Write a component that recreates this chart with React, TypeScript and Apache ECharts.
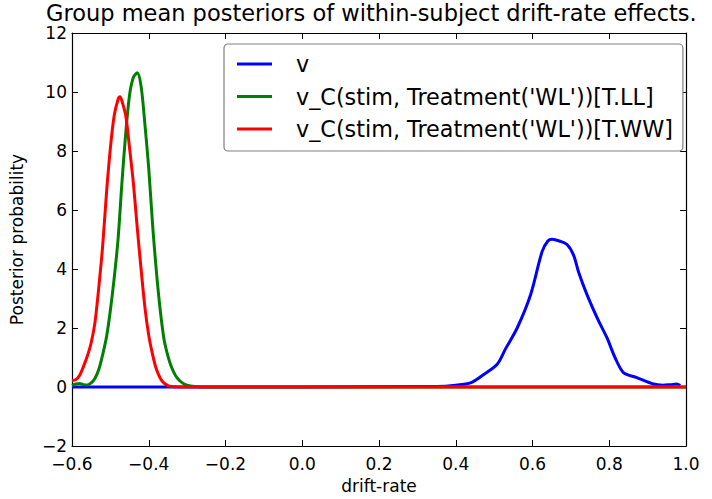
import React, { useEffect, useRef } from "react";
import * as echarts from "echarts";

const seriesNames = [
  "v",
  "v_C(stim, Treatment('WL'))[T.LL]",
  "v_C(stim, Treatment('WL'))[T.WW]",
];

const vX = [-0.6, 0.0, 0.3, 0.35, 0.4, 0.44, 0.47, 0.508, 0.53, 0.56, 0.595, 0.625, 0.64, 0.651, 0.67, 0.69, 0.707, 0.72, 0.742, 0.77, 0.794, 0.815, 0.837, 0.872, 0.915, 0.94, 0.96, 0.976, 0.985];
const vY = [0, 0, 0.02, 0.02, 0.06, 0.15, 0.4, 0.77, 1.3, 2.0, 3.13, 4.59, 4.95, 5.01, 4.95, 4.83, 4.47, 3.9, 3.13, 2.3, 1.67, 1.0, 0.49, 0.32, 0.1, 0.06, 0.08, 0.1, 0.05];

const llX = [-0.6, -0.59, -0.58, -0.57, -0.56, -0.55, -0.54, -0.53, -0.52, -0.51, -0.5, -0.49, -0.48, -0.47, -0.46, -0.45, -0.44, -0.43, -0.42, -0.41, -0.4, -0.39, -0.38, -0.37, -0.36, -0.35, -0.34, -0.33, -0.32, -0.31, -0.3, -0.28, -0.25, 1.0];
const llY = [0.05, 0.1, 0.12, 0.08, 0.07, 0.14, 0.3, 0.6, 1.1, 1.7, 2.6, 3.7, 5.0, 6.9, 8.6, 9.9, 10.5, 10.65, 10.2, 8.9, 7.4, 5.5, 3.9, 2.6, 1.6, 1.05, 0.65, 0.38, 0.22, 0.12, 0.06, 0.02, 0, 0];

const wwX = [-0.6, -0.59, -0.58, -0.57, -0.56, -0.55, -0.54, -0.53, -0.52, -0.51, -0.5, -0.49, -0.48, -0.475, -0.47, -0.46, -0.45, -0.44, -0.43, -0.42, -0.41, -0.4, -0.39, -0.38, -0.37, -0.36, -0.35, -0.34, -0.33, -0.3, 1.0];
const wwY = [0.22, 0.25, 0.4, 0.7, 1.05, 1.5, 2.2, 3.4, 4.8, 6.6, 8.1, 9.2, 9.75, 9.84, 9.7, 9.2, 8.1, 6.9, 5.4, 4.0, 2.7, 1.75, 1.1, 0.6, 0.3, 0.13, 0.05, 0.02, 0.01, 0, 0];

const colors = ["#0000ff", "#008000", "#ff0000"];

const FONT = "DejaVu Sans";

function fmtTick(v: number, digits: number) {
  const s = Math.abs(v).toFixed(digits);
  return v < -1e-9 ? "\u2212" + s : s;
}

export default function App() {
  const ref = useRef<HTMLDivElement>(null);
  useEffect(() => {
    if (!ref.current) return;
    const chart = echarts.init(ref.current, undefined, { renderer: "svg" });
    const zip = (xs: number[], ys: number[]) => xs.map((x, i) => [x, ys[i]]);
    const datasets = [zip(vX, vY), zip(llX, llY), zip(wwX, wwY)];
    const axisLine = { show: true, onZero: false, lineStyle: { color: "#000", width: 1.2 } };
    const tick = { show: true, inside: true, length: 6, lineStyle: { color: "#000", width: 1 } };
    chart.setOption({
      animation: false,
      backgroundColor: "#fff",
      title: {
        text: "Group mean posteriors of within-subject drift-rate effects.",
        left: 41,
        top: 0,
        padding: [2, 5, 0, 5],
        textStyle: { fontFamily: FONT, fontSize: 22.5, fontWeight: "normal", color: "#000", lineHeight: 21 },
      },
      grid: { left: 70, right: 26, top: 33, bottom: 50 },
      xAxis: [
        {
          type: "value",
          min: -0.6,
          max: 1.0,
          interval: 0.2,
          name: "drift-rate",
          nameLocation: "middle",
          nameGap: 31,
          nameTextStyle: { fontFamily: FONT, fontSize: 17, color: "#000" },
          axisLine,
          axisTick: tick,
          splitLine: { show: false },
          axisLabel: {
            fontFamily: FONT,
            fontSize: 17,
            lineHeight: 17,
            color: "#000",
            margin: 9,
            formatter: (v: number) => fmtTick(v, 1),
            showMinLabel: true,
            showMaxLabel: true,
          },
        },
        {
          type: "value",
          position: "top",
          min: -0.6,
          max: 1.0,
          interval: 0.2,
          axisLine,
          axisTick: tick,
          axisLabel: { show: false },
          splitLine: { show: false },
        },
      ],
      yAxis: [
        {
          type: "value",
          min: -2,
          max: 12,
          interval: 2,
          name: "Posterior probability",
          nameLocation: "middle",
          nameGap: 47,
          nameTextStyle: { fontFamily: FONT, fontSize: 17, color: "#000" },
          axisLine,
          axisTick: tick,
          splitLine: { show: false },
          axisLabel: {
            fontFamily: FONT,
            fontSize: 17,
            lineHeight: 14,
            color: "#000",
            margin: 5,
            formatter: (v: number) => fmtTick(v, 0),
          },
        },
        {
          type: "value",
          position: "right",
          min: -2,
          max: 12,
          interval: 2,
          axisLine,
          axisTick: tick,
          axisLabel: { show: false },
          splitLine: { show: false },
        },
      ],
      legend: {
        orient: "vertical",
        left: 224,
        top: 44,
        padding: [8, 10, 10, 13],
        itemGap: 8.5,
        itemWidth: 35,
        itemHeight: 3,
        icon: "rect",
        backgroundColor: "#fff",
        borderColor: "#808080",
        borderWidth: 1.2,
        borderRadius: 4,
        textStyle: {
          fontFamily: FONT,
          fontSize: 22.3,
          color: "#000",
          lineHeight: 24,
          padding: [0, 0, 0, 19],
        },
        data: seriesNames,
      },
      series: datasets.map((d, i) => ({
        name: seriesNames[i],
        type: "line",
        data: d,
        smooth: 0.3,
        showSymbol: false,
        symbol: "none",
        color: colors[i],
        lineStyle: { width: 3, color: colors[i] },
        z: 2 + i,
      })),
    });
    return () => chart.dispose();
  }, []);
  return <div ref={ref} style={{ width: 712, height: 499, position: "absolute", left: 0, top: 0 }} />;
}
